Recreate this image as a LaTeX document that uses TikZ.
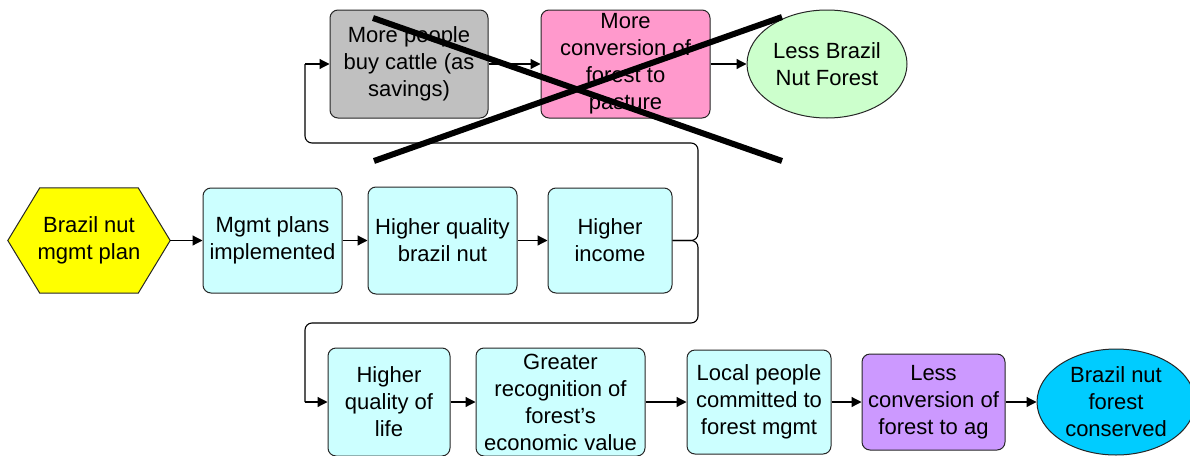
\documentclass[tikz,border=0pt]{standalone}
\usepackage{fontspec}
\setmainfont{Liberation Sans}
\usetikzlibrary{arrows.meta,shapes.geometric,backgrounds,calc}
\definecolor{cgray}{HTML}{C0C0C0}
\definecolor{cpink}{HTML}{FF99CC}
\definecolor{cgreen}{HTML}{CCFFCC}
\definecolor{cyellow}{HTML}{FFFF00}
\definecolor{ccyan}{HTML}{CCFFFF}
\definecolor{cpurple}{HTML}{CC99FF}
\definecolor{cblue}{HTML}{00CCFF}
\begin{document}
\begin{tikzpicture}[x=1pt,y=-1pt,
  every node/.style={font=\fontsize{22}{27}\selectfont, align=center, inner sep=0pt},
  box/.style={draw=black!85, line width=1pt, rounded corners=8pt, minimum width=#1},
  oval/.style={draw=black!85, line width=1pt, ellipse, minimum width=#1},
  arr/.style={-{Triangle[length=10pt,width=10pt]}, line width=1.2pt, black},
  link/.style={line width=1.1pt, black, rounded corners=7pt},
  cross/.style={line width=6pt, black}]
\useasboundingbox (0,0) rectangle (1190,455);
% top row
\node[box=158, minimum height=108, fill=cgray] (cattle) at (409,64) {More people\\buy cattle (as\\savings)};
\node[box=169, minimum height=108, fill=cpink] (pink) at (625.5,64) {More\\conversion of\\forest to\\pasture};
\node[oval=160, minimum height=108, fill=cgreen] (less) at (827,64) {Less Brazil\\Nut Forest};
% middle row
\node[minimum width=162, minimum height=105] (plan) at (89,240.5) {Brazil nut\\mgmt plan};
\begin{scope}[on background layer]
\draw[line width=1pt, draw=black!85, fill=cyellow] (plan.west) -- ($(plan.north west)+(32,0)$) -- ($(plan.north east)+(-32,0)$) -- (plan.east) -- ($(plan.south east)+(-32,0)$) -- ($(plan.south west)+(32,0)$) -- cycle;
\end{scope}
\node[box=139, minimum height=105, fill=ccyan] (impl) at (272.5,240.5) {Mgmt plans\\implemented};
\node[box=149, minimum height=107, fill=ccyan] (hq) at (442.5,240.5) {Higher quality\\brazil nut};
\node[box=124, minimum height=105, fill=ccyan] (inc) at (610,240.5) {Higher\\income};
% bottom row
\node[box=122, minimum height=108, fill=ccyan] (qol) at (389,402) {Higher\\quality of\\life};
\node[box=169, minimum height=108, fill=ccyan] (rec) at (560.5,402) {Greater\\recognition of\\forest’s\\economic value};
\node[box=144, minimum height=104, fill=ccyan] (local) at (759,402) {Local people\\committed to\\forest mgmt};
\node[box=143, minimum height=96, fill=cpurple] (lessag) at (933.5,402) {Less\\conversion of\\forest to ag};
\node[oval=158, minimum height=106, fill=cblue] (cons) at (1116,402) {Brazil nut\\forest\\conserved};
% connector corners
\coordinate (tr) at (698,143);
\coordinate (tl) at (305,64);
\coordinate (br) at (698,323);
\coordinate (bl) at (305,402);
% arrows
\draw[arr] (cattle) -- (pink);
\draw[arr] (pink) -- (less);
\draw[arr] (plan) -- (impl);
\draw[arr] (impl) -- (hq);
\draw[arr] (hq) -- (inc);
\draw[arr] (qol) -- (rec);
\draw[arr] (rec) -- (local);
\draw[arr] (local) -- (lessag);
\draw[arr] (lessag) -- (cons);
\draw[link] (inc.east) -| (tr) -| (tl);
\draw[arr] (tl) -- (cattle.west);
\draw[link] (inc.east) -| (br) -| (bl);
\draw[arr] (bl) -- (qol.west);
% cross
\coordinate (x1) at (373,18);
\coordinate (x2) at (782,161);
\coordinate (x3) at (374,161);
\coordinate (x4) at (782,17);
\draw[cross] (x1) -- (x2);
\draw[cross] (x3) -- (x4);
\end{tikzpicture}
\end{document}
